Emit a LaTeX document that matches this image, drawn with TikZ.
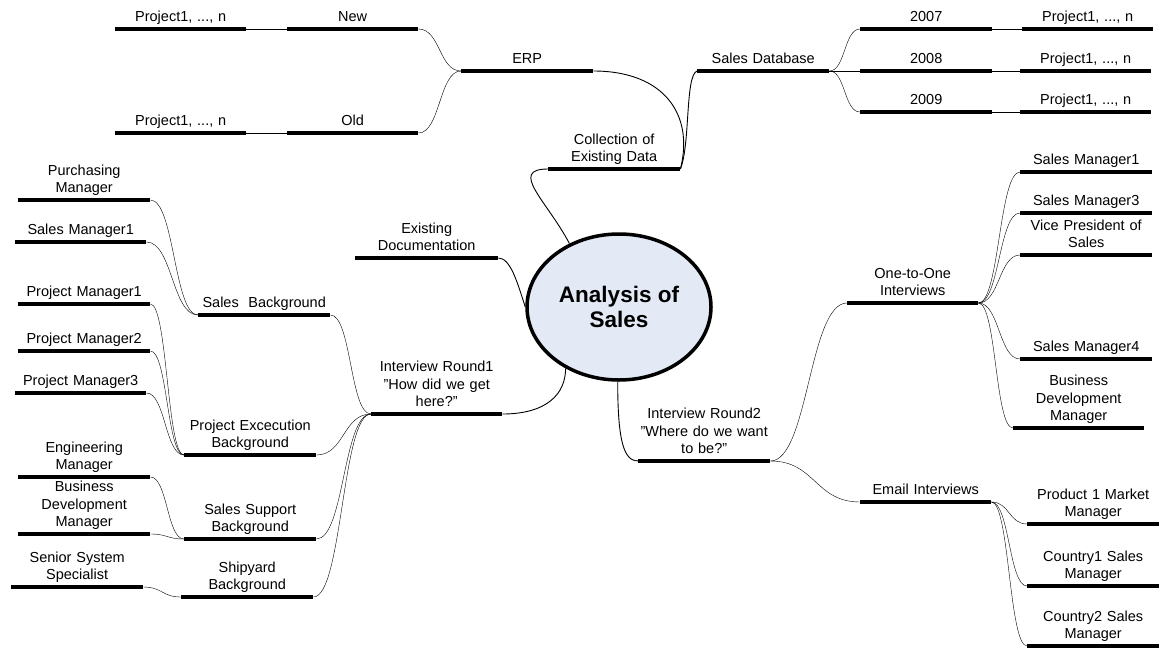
\documentclass[tikz,border=0pt]{standalone}
\usepackage{fontspec}
\setmainfont{Liberation Sans}
\usetikzlibrary{shapes.geometric,calc}
\definecolor{corefill}{RGB}{227,234,246}

\begin{document}
\begin{tikzpicture}[x=1pt,y=-1pt,
  topic/.style={anchor=south west, text width=#1pt, align=center,
    inner xsep=0pt, inner ysep=3.5pt,
    font=\fontsize{14.5}{17.5}\selectfont,
    execute at end node={\rule[-3.5pt]{0pt}{3.5pt}}},
  topic/.default=132,
  bar/.style={line width=4pt},
  wire/.style={line width=0.9pt},
  link/.style={wire, to path={.. controls ($(\tikztostart)+(#1,0)$)
    and ($(\tikztotarget)-(#1,0)$) .. (\tikztotarget)}},
  link/.default=20,
  core/.style={ellipse, draw, line width=3.5pt, fill=corefill,
    minimum width=184pt, minimum height=146pt, inner sep=0pt, align=center,
    font=\fontsize{22.5}{25.5}\selectfont\bfseries}
]
\useasboundingbox (0,0) rectangle (1161,648);

% central topic
\node[core] (core) at (619,307) {Analysis of\\Sales};

% existing data branch
\node[topic] (coll) at (548,169) {Collection of\\Existing Data};
\node[topic] (erp) at (461,71) {ERP};
\node[topic=131] (new) at (287,29) {New};
\node[topic=131] (old) at (287,133) {Old};
\node[topic=131] (pnew) at (115,29) {Project1, ..., n};
\node[topic=131] (pold) at (115,133) {Project1, ..., n};
\node[topic] (sdb) at (697,71) {Sales Database};
\node[topic] (y07) at (860,29) {2007};
\node[topic] (y08) at (860,71) {2008};
\node[topic] (y09) at (860,112) {2009};
\node[topic=131] (p07) at (1022,29) {Project1, ..., n};
\node[topic=131] (p08) at (1020,71) {Project1, ..., n};
\node[topic=131] (p09) at (1020,112) {Project1, ..., n};

% documentation
\node[topic=143] (exdoc) at (355,258) {Existing\\Documentation};

% first interview round
\node[topic=131] (ir1) at (371,414) {Interview Round1\\”How did we get\\here?”};
\node[topic] (sbg) at (198,315) {Sales\ \ Background};
\node[topic] (pmgr) at (18,200) {Purchasing\\Manager};
\node[topic=131] (sm1l) at (15,242) {Sales Manager1};
\node[topic] (peb) at (184,455) {Project Excecution\\Background};
\node[topic] (pm1) at (18,304) {Project Manager1};
\node[topic] (pm2) at (18,351) {Project Manager2};
\node[topic=131] (pm3) at (15,393) {Project Manager3};
\node[topic] (ssb) at (184,539) {Sales Support\\Background};
\node[topic] (eng) at (18,477) {Engineering\\Manager};
\node[topic] (bdml) at (18,534) {Business\\Development\\Manager};
\node[topic] (syb) at (181,597) {Shipyard\\Background};
\node[topic] (sss) at (11,587) {Senior System\\Specialist};

% second interview round
\node[topic] (ir2) at (638,461) {Interview Round2\\”Where do we want\\to be?”};
\node[topic=131] (oto) at (847,303) {One-to-One\\Interviews};
\node[topic] (sm1r) at (1020,172) {Sales Manager1};
\node[topic] (sm3) at (1020,213) {Sales Manager3};
\node[topic] (vp) at (1020,255) {Vice President of\\Sales};
\node[topic] (sm4) at (1020,359) {Sales Manager4};
\node[topic=131] (bdmr) at (1013,428) {Business\\Development\\Manager};
\node[topic=131] (email) at (860,502) {Email Interviews};
\node[topic] (p1mm) at (1027,524) {Product 1 Market\\Manager};
\node[topic] (c1) at (1027,586) {Country1 Sales\\Manager};
\node[topic] (c2) at (1027,646) {Country2 Sales\\Manager};

% connectors around the central topic
\draw[wire] (coll.south west) .. controls ($(coll.south west)+(-40,0)$)
  and ($(core.128)+(-22,-42)$) .. (core.128);
\draw[wire] (coll.south east) .. controls ($(coll.south east)+(14,-55)$)
  and ($(erp.south east)+(70,0)$) .. (erp.south east);
\draw[wire] (coll.south east) .. controls ($(coll.south east)+(10,-25)$)
  and ($(sdb.south west)+(-12,5)$) .. (sdb.south west);
\draw[wire] (exdoc.south east) .. controls ($(exdoc.south east)+(12,0)$)
  and ($(core.180)+(-8,-25)$) .. (core.180);
\draw[wire] (ir1.south east) .. controls ($(ir1.south east)+(45,0)$)
  and ($(core.229)+(0,25)$) .. (core.229);
\draw[wire] (core.-91) .. controls ($(core.-91)+(0,60)$)
  and ($(ir2.south west)+(-14,0)$) .. (ir2.south west);

% ERP and sales database
\draw (erp.south west) to[link=-22] (new.south east);
\draw (erp.south west) to[link=-22] (old.south east);
\draw[wire] (new.south west) -- (pnew.south east);
\draw[wire] (old.south west) -- (pold.south east);
\draw (sdb.south east) to[link=16] (y07.south west);
\draw[wire] (sdb.south east) -- (y08.south west);
\draw (sdb.south east) to[link=16] (y09.south west);
\draw[wire] (y07.south east) -- (p07.south west);
\draw[wire] (y08.south east) -- (p08.south west);
\draw[wire] (y09.south east) -- (p09.south west);

% first round
\draw (ir1.south west) to[link=-21] (sbg.south east);
\draw (ir1.south west) to[link=-28] (peb.south east);
\draw (ir1.south west) to[link=-28] (ssb.south east);
\draw (ir1.south west) to[link=-29] (syb.south east);
\draw (sbg.south west) to[link=-24] (pmgr.south east);
\draw (sbg.south west) to[link=-26] (sm1l.south east);
\draw (peb.south west) to[link=-17] (pm1.south east);
\draw (peb.south west) to[link=-17] (pm2.south east);
\draw (peb.south west) to[link=-19] (pm3.south east);
\draw (ssb.south west) to[link=-17] (eng.south east);
\draw (ssb.south west) to[link=-17] (bdml.south east);
\draw (syb.south west) to[link=-19] (sss.south east);

% second round
\draw (ir2.south east) to[link=38] (oto.south west);
\draw (ir2.south east) to[link=45] (email.south west);
\draw (oto.south east) to[link=21] (sm1r.south west);
\draw (oto.south east) to[link=21] (sm3.south west);
\draw (oto.south east) to[link=21] (vp.south west);
\draw (oto.south east) to[link=21] (sm4.south west);
\draw (oto.south east) to[link=18] (bdmr.south west);
\draw (email.south east) to[link=18] (p1mm.south west);
\draw (email.south east) to[link=18] (c1.south west);
\draw (email.south east) to[link=18] (c2.south west);

% topic bars
\foreach \n in {coll,erp,new,old,pnew,pold,sdb,y07,y08,y09,p07,p08,p09,
  exdoc,ir1,sbg,pmgr,sm1l,peb,pm1,pm2,pm3,ssb,eng,bdml,syb,sss,
  ir2,oto,sm1r,sm3,vp,sm4,bdmr,email,p1mm,c1,c2}
  \draw[bar] (\n.south west) -- (\n.south east);
\end{tikzpicture}
\end{document}
